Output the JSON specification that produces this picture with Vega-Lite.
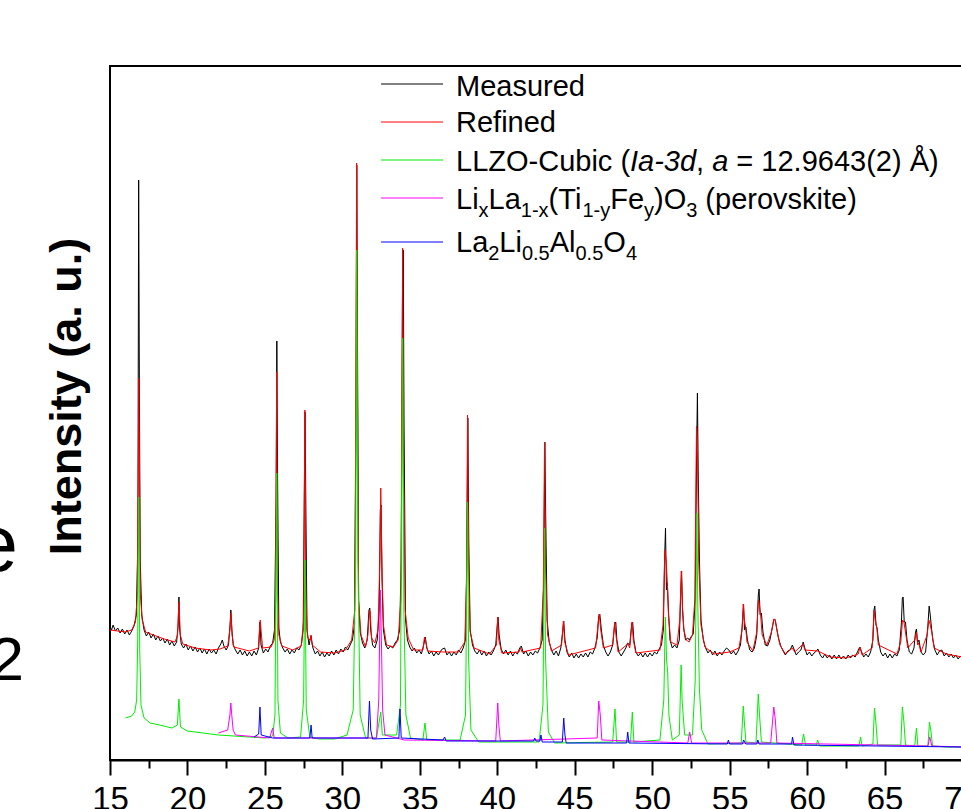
{
  "$schema": "https://vega.github.io/schema/vega-lite/v6.json",
  "width": 852,
  "height": 694,
  "autosize": "none",
  "padding": {"left": 110, "top": 66, "right": 0, "bottom": 49},
  "background": "white",
  "config": {
    "view": {"stroke": "black", "strokeWidth": 2},
    "font": "Liberation Sans"
  },
  "datasets": {
    "measured": [
      {"x":15.0,"y":133},{"x":15.1,"y":130},{"x":15.2,"y":135},{"x":15.35,"y":129},{"x":15.5,"y":132},{"x":15.65,"y":127},{"x":15.8,"y":131},{"x":15.95,"y":126},{"x":16.1,"y":130},{"x":16.25,"y":125},{"x":16.4,"y":129},{"x":16.55,"y":134},{"x":16.7,"y":145},{"x":16.8,"y":220},{"x":16.85,"y":580},{"x":16.9,"y":360},{"x":16.95,"y":200},{"x":17.05,"y":145},{"x":17.2,"y":130},{"x":17.35,"y":124},{"x":17.5,"y":128},{"x":17.65,"y":122},{"x":17.8,"y":126},{"x":17.95,"y":120},{"x":18.1,"y":124},{"x":18.25,"y":119},{"x":18.4,"y":122},{"x":18.55,"y":117},{"x":18.7,"y":121},{"x":18.85,"y":115},{"x":19.0,"y":119},{"x":19.15,"y":114},{"x":19.3,"y":118},{"x":19.4,"y":135},{"x":19.45,"y":163},{"x":19.5,"y":130},{"x":19.6,"y":116},{"x":19.75,"y":112},{"x":19.9,"y":116},{"x":20.05,"y":110},{"x":20.2,"y":114},{"x":20.35,"y":109},{"x":20.5,"y":113},{"x":20.65,"y":108},{"x":20.8,"y":112},{"x":20.95,"y":107},{"x":21.1,"y":111},{"x":21.25,"y":106},{"x":21.4,"y":111},{"x":21.55,"y":107},{"x":21.7,"y":110},{"x":21.85,"y":106},{"x":22.0,"y":112},{"x":22.15,"y":116},{"x":22.25,"y":120},{"x":22.35,"y":114},{"x":22.5,"y":110},{"x":22.65,"y":115},{"x":22.75,"y":135},{"x":22.8,"y":150},{"x":22.87,"y":130},{"x":22.95,"y":115},{"x":23.1,"y":110},{"x":23.25,"y":106},{"x":23.4,"y":110},{"x":23.55,"y":105},{"x":23.7,"y":109},{"x":23.85,"y":104},{"x":24.0,"y":108},{"x":24.15,"y":104},{"x":24.3,"y":109},{"x":24.45,"y":105},{"x":24.6,"y":112},{"x":24.68,"y":138},{"x":24.75,"y":115},{"x":24.9,"y":107},{"x":25.05,"y":111},{"x":25.2,"y":108},{"x":25.35,"y":114},{"x":25.5,"y":117},{"x":25.62,"y":130},{"x":25.72,"y":260},{"x":25.77,"y":419},{"x":25.82,"y":280},{"x":25.9,"y":132},{"x":26.0,"y":118},{"x":26.15,"y":112},{"x":26.3,"y":108},{"x":26.45,"y":111},{"x":26.6,"y":106},{"x":26.75,"y":110},{"x":26.9,"y":107},{"x":27.05,"y":112},{"x":27.2,"y":110},{"x":27.35,"y":115},{"x":27.47,"y":130},{"x":27.55,"y":280},{"x":27.59,"y":348},{"x":27.64,"y":260},{"x":27.72,"y":130},{"x":27.85,"y":115},{"x":27.97,"y":124},{"x":28.1,"y":112},{"x":28.25,"y":106},{"x":28.4,"y":109},{"x":28.55,"y":104},{"x":28.7,"y":108},{"x":28.85,"y":103},{"x":29.0,"y":107},{"x":29.15,"y":104},{"x":29.3,"y":109},{"x":29.45,"y":105},{"x":29.6,"y":110},{"x":29.75,"y":106},{"x":29.9,"y":111},{"x":30.05,"y":108},{"x":30.2,"y":113},{"x":30.35,"y":110},{"x":30.5,"y":115},{"x":30.65,"y":120},{"x":30.78,"y":135},{"x":30.87,"y":310},{"x":30.93,"y":595},{"x":30.98,"y":410},{"x":31.05,"y":160},{"x":31.15,"y":128},{"x":31.3,"y":117},{"x":31.45,"y":112},{"x":31.6,"y":120},{"x":31.72,"y":150},{"x":31.77,"y":152},{"x":31.83,"y":130},{"x":31.95,"y":115},{"x":32.1,"y":112},{"x":32.25,"y":120},{"x":32.38,"y":150},{"x":32.45,"y":250},{"x":32.5,"y":255},{"x":32.56,"y":180},{"x":32.65,"y":130},{"x":32.8,"y":115},{"x":32.95,"y":111},{"x":33.1,"y":114},{"x":33.25,"y":112},{"x":33.4,"y":117},{"x":33.55,"y":120},{"x":33.7,"y":130},{"x":33.8,"y":200},{"x":33.88,"y":460},{"x":33.93,"y":510},{"x":33.98,"y":340},{"x":34.08,"y":140},{"x":34.2,"y":120},{"x":34.35,"y":113},{"x":34.5,"y":109},{"x":34.65,"y":112},{"x":34.8,"y":107},{"x":34.95,"y":110},{"x":35.1,"y":106},{"x":35.25,"y":115},{"x":35.35,"y":123},{"x":35.45,"y":112},{"x":35.6,"y":106},{"x":35.75,"y":109},{"x":35.9,"y":104},{"x":36.05,"y":108},{"x":36.2,"y":105},{"x":36.35,"y":109},{"x":36.45,"y":111},{"x":36.6,"y":112},{"x":36.75,"y":105},{"x":36.9,"y":108},{"x":37.05,"y":104},{"x":37.2,"y":108},{"x":37.35,"y":105},{"x":37.5,"y":110},{"x":37.65,"y":107},{"x":37.8,"y":112},{"x":37.95,"y":120},{"x":38.03,"y":200},{"x":38.1,"y":342},{"x":38.16,"y":220},{"x":38.25,"y":130},{"x":38.4,"y":115},{"x":38.55,"y":109},{"x":38.7,"y":106},{"x":38.85,"y":110},{"x":39.0,"y":105},{"x":39.15,"y":109},{"x":39.3,"y":104},{"x":39.45,"y":108},{"x":39.6,"y":105},{"x":39.75,"y":109},{"x":39.9,"y":115},{"x":40.0,"y":135},{"x":40.05,"y":143},{"x":40.12,"y":125},{"x":40.25,"y":111},{"x":40.4,"y":106},{"x":40.55,"y":110},{"x":40.7,"y":105},{"x":40.85,"y":109},{"x":41.0,"y":104},{"x":41.15,"y":108},{"x":41.3,"y":106},{"x":41.45,"y":112},{"x":41.55,"y":114},{"x":41.7,"y":106},{"x":41.85,"y":109},{"x":42.0,"y":104},{"x":42.15,"y":108},{"x":42.3,"y":105},{"x":42.45,"y":109},{"x":42.6,"y":107},{"x":42.75,"y":112},{"x":42.9,"y":120},{"x":43.0,"y":180},{"x":43.07,"y":318},{"x":43.13,"y":240},{"x":43.22,"y":140},{"x":43.35,"y":118},{"x":43.5,"y":110},{"x":43.65,"y":105},{"x":43.8,"y":109},{"x":43.95,"y":104},{"x":44.1,"y":112},{"x":44.2,"y":125},{"x":44.29,"y":139},{"x":44.37,"y":120},{"x":44.5,"y":108},{"x":44.65,"y":103},{"x":44.8,"y":107},{"x":44.95,"y":102},{"x":45.1,"y":106},{"x":45.25,"y":102},{"x":45.4,"y":106},{"x":45.55,"y":103},{"x":45.7,"y":107},{"x":45.85,"y":103},{"x":46.0,"y":108},{"x":46.15,"y":106},{"x":46.3,"y":112},{"x":46.45,"y":122},{"x":46.55,"y":144},{"x":46.62,"y":146},{"x":46.72,"y":130},{"x":46.85,"y":115},{"x":47.0,"y":108},{"x":47.15,"y":104},{"x":47.3,"y":108},{"x":47.45,"y":115},{"x":47.58,"y":136},{"x":47.65,"y":138},{"x":47.72,"y":120},{"x":47.85,"y":108},{"x":48.0,"y":104},{"x":48.15,"y":108},{"x":48.3,"y":112},{"x":48.42,"y":117},{"x":48.55,"y":115},{"x":48.68,"y":136},{"x":48.74,"y":138},{"x":48.82,"y":120},{"x":48.95,"y":108},{"x":49.1,"y":104},{"x":49.25,"y":107},{"x":49.4,"y":103},{"x":49.55,"y":107},{"x":49.7,"y":103},{"x":49.85,"y":107},{"x":50.0,"y":104},{"x":50.15,"y":108},{"x":50.3,"y":106},{"x":50.45,"y":111},{"x":50.6,"y":115},{"x":50.72,"y":130},{"x":50.8,"y":200},{"x":50.86,"y":232},{"x":50.92,"y":170},{"x":50.98,"y":177},{"x":51.05,"y":150},{"x":51.15,"y":120},{"x":51.3,"y":112},{"x":51.45,"y":115},{"x":51.6,"y":112},{"x":51.75,"y":120},{"x":51.85,"y":170},{"x":51.9,"y":189},{"x":51.96,"y":150},{"x":52.03,"y":132},{"x":52.15,"y":120},{"x":52.3,"y":122},{"x":52.4,"y":120},{"x":52.5,"y":123},{"x":52.65,"y":126},{"x":52.78,"y":160},{"x":52.87,"y":310},{"x":52.92,"y":367},{"x":52.97,"y":290},{"x":53.05,"y":200},{"x":53.15,"y":140},{"x":53.3,"y":120},{"x":53.45,"y":112},{"x":53.6,"y":107},{"x":53.75,"y":110},{"x":53.9,"y":105},{"x":54.05,"y":109},{"x":54.2,"y":104},{"x":54.35,"y":108},{"x":54.5,"y":105},{"x":54.65,"y":109},{"x":54.8,"y":112},{"x":54.95,"y":110},{"x":55.1,"y":106},{"x":55.25,"y":109},{"x":55.4,"y":105},{"x":55.55,"y":109},{"x":55.7,"y":115},{"x":55.82,"y":135},{"x":55.9,"y":156},{"x":55.96,"y":130},{"x":56.05,"y":133},{"x":56.15,"y":120},{"x":56.3,"y":110},{"x":56.45,"y":108},{"x":56.6,"y":112},{"x":56.75,"y":125},{"x":56.85,"y":165},{"x":56.9,"y":171},{"x":56.97,"y":145},{"x":57.05,"y":147},{"x":57.15,"y":128},{"x":57.3,"y":115},{"x":57.45,"y":114},{"x":57.6,"y":120},{"x":57.75,"y":132},{"x":57.85,"y":140},{"x":57.92,"y":141},{"x":58.0,"y":135},{"x":58.15,"y":122},{"x":58.3,"y":114},{"x":58.45,"y":109},{"x":58.6,"y":105},{"x":58.75,"y":109},{"x":58.9,"y":110},{"x":59.05,"y":115},{"x":59.15,"y":111},{"x":59.3,"y":105},{"x":59.45,"y":108},{"x":59.6,"y":110},{"x":59.75,"y":118},{"x":59.85,"y":112},{"x":60.0,"y":105},{"x":60.15,"y":108},{"x":60.3,"y":104},{"x":60.45,"y":107},{"x":60.6,"y":109},{"x":60.7,"y":111},{"x":60.85,"y":105},{"x":61.0,"y":102},{"x":61.15,"y":106},{"x":61.3,"y":102},{"x":61.45,"y":105},{"x":61.6,"y":101},{"x":61.75,"y":105},{"x":61.9,"y":101},{"x":62.05,"y":105},{"x":62.2,"y":101},{"x":62.35,"y":104},{"x":62.5,"y":101},{"x":62.65,"y":105},{"x":62.8,"y":102},{"x":62.95,"y":105},{"x":63.1,"y":103},{"x":63.25,"y":108},{"x":63.4,"y":113},{"x":63.52,"y":108},{"x":63.65,"y":103},{"x":63.8,"y":106},{"x":63.95,"y":103},{"x":64.1,"y":108},{"x":64.25,"y":120},{"x":64.32,"y":150},{"x":64.37,"y":154},{"x":64.45,"y":135},{"x":64.52,"y":132},{"x":64.6,"y":120},{"x":64.75,"y":108},{"x":64.9,"y":104},{"x":65.05,"y":107},{"x":65.2,"y":102},{"x":65.35,"y":106},{"x":65.5,"y":102},{"x":65.65,"y":106},{"x":65.8,"y":104},{"x":65.95,"y":110},{"x":66.08,"y":135},{"x":66.15,"y":162},{"x":66.2,"y":163},{"x":66.27,"y":138},{"x":66.35,"y":138},{"x":66.45,"y":120},{"x":66.6,"y":108},{"x":66.75,"y":106},{"x":66.9,"y":112},{"x":67.0,"y":128},{"x":67.06,"y":131},{"x":67.13,"y":117},{"x":67.22,"y":120},{"x":67.35,"y":108},{"x":67.5,"y":105},{"x":67.65,"y":108},{"x":67.8,"y":135},{"x":67.88,"y":154},{"x":67.95,"y":145},{"x":68.03,"y":132},{"x":68.12,"y":120},{"x":68.25,"y":110},{"x":68.4,"y":105},{"x":68.55,"y":109},{"x":68.7,"y":110},{"x":68.85,"y":104},{"x":69.0,"y":107},{"x":69.15,"y":103},{"x":69.3,"y":106},{"x":69.45,"y":102},{"x":69.6,"y":105},{"x":69.75,"y":101},{"x":69.9,"y":104},{"x":70.0,"y":102}
    ],
    "refined": [
      {"x":15.0,"y":130},{"x":15.5,"y":129},{"x":16.0,"y":128},{"x":16.4,"y":130},{"x":16.65,"y":138},{"x":16.76,"y":165},{"x":16.83,"y":300},{"x":16.86,"y":382},{"x":16.9,"y":300},{"x":16.96,"y":165},{"x":17.08,"y":140},{"x":17.3,"y":128},{"x":17.8,"y":125},{"x":18.5,"y":121},{"x":19.2,"y":118},{"x":19.36,"y":125},{"x":19.45,"y":158},{"x":19.54,"y":125},{"x":19.7,"y":116},{"x":20.5,"y":112},{"x":21.5,"y":110},{"x":22.1,"y":111},{"x":22.6,"y":114},{"x":22.74,"y":130},{"x":22.81,"y":147},{"x":22.88,"y":125},{"x":23.0,"y":113},{"x":24.0,"y":109},{"x":24.58,"y":112},{"x":24.65,"y":130},{"x":24.7,"y":140},{"x":24.75,"y":130},{"x":24.85,"y":112},{"x":25.4,"y":113},{"x":25.6,"y":120},{"x":25.7,"y":160},{"x":25.76,"y":388},{"x":25.81,"y":170},{"x":25.9,"y":125},{"x":26.1,"y":114},{"x":26.8,"y":110},{"x":27.35,"y":114},{"x":27.5,"y":140},{"x":27.58,"y":350},{"x":27.64,"y":160},{"x":27.75,"y":122},{"x":27.92,"y":120},{"x":27.98,"y":125},{"x":28.05,"y":115},{"x":28.6,"y":108},{"x":29.5,"y":107},{"x":30.2,"y":110},{"x":30.6,"y":120},{"x":30.8,"y":150},{"x":30.88,"y":400},{"x":30.92,"y":597},{"x":30.97,"y":400},{"x":31.05,"y":160},{"x":31.2,"y":125},{"x":31.5,"y":113},{"x":31.65,"y":125},{"x":31.75,"y":150},{"x":31.8,"y":148},{"x":31.88,"y":122},{"x":32.1,"y":117},{"x":32.3,"y":130},{"x":32.42,"y":200},{"x":32.48,"y":272},{"x":32.55,"y":200},{"x":32.65,"y":135},{"x":32.85,"y":115},{"x":33.3,"y":113},{"x":33.6,"y":120},{"x":33.78,"y":160},{"x":33.84,"y":350},{"x":33.89,"y":512},{"x":33.95,"y":300},{"x":34.05,"y":150},{"x":34.25,"y":122},{"x":34.6,"y":110},{"x":35.2,"y":110},{"x":35.3,"y":123},{"x":35.37,"y":120},{"x":35.5,"y":109},{"x":36.5,"y":108},{"x":37.5,"y":108},{"x":37.9,"y":118},{"x":38.02,"y":180},{"x":38.08,"y":345},{"x":38.14,"y":200},{"x":38.25,"y":128},{"x":38.5,"y":112},{"x":39.5,"y":106},{"x":39.95,"y":115},{"x":40.03,"y":143},{"x":40.1,"y":120},{"x":40.3,"y":107},{"x":41.4,"y":108},{"x":41.5,"y":112},{"x":41.6,"y":108},{"x":42.8,"y":112},{"x":42.97,"y":170},{"x":43.05,"y":318},{"x":43.12,"y":190},{"x":43.25,"y":125},{"x":43.5,"y":109},{"x":44.15,"y":115},{"x":44.27,"y":139},{"x":44.35,"y":118},{"x":44.6,"y":105},{"x":46.35,"y":112},{"x":46.5,"y":135},{"x":46.58,"y":146},{"x":46.68,"y":130},{"x":46.85,"y":112},{"x":47.45,"y":115},{"x":47.58,"y":138},{"x":47.66,"y":125},{"x":47.8,"y":108},{"x":48.35,"y":115},{"x":48.42,"y":117},{"x":48.55,"y":112},{"x":48.7,"y":138},{"x":48.78,"y":120},{"x":48.95,"y":107},{"x":50.5,"y":110},{"x":50.7,"y":135},{"x":50.82,"y":210},{"x":50.9,"y":200},{"x":50.98,"y":177},{"x":51.05,"y":145},{"x":51.2,"y":118},{"x":51.6,"y":115},{"x":51.78,"y":140},{"x":51.88,"y":189},{"x":51.95,"y":155},{"x":52.05,"y":130},{"x":52.2,"y":120},{"x":52.38,"y":118},{"x":52.6,"y":125},{"x":52.75,"y":160},{"x":52.86,"y":334},{"x":52.93,"y":300},{"x":53.0,"y":200},{"x":53.15,"y":135},{"x":53.4,"y":113},{"x":54.0,"y":106},{"x":55.0,"y":108},{"x":55.6,"y":112},{"x":55.8,"y":130},{"x":55.88,"y":156},{"x":55.95,"y":140},{"x":56.03,"y":133},{"x":56.12,"y":118},{"x":56.5,"y":109},{"x":56.75,"y":128},{"x":56.86,"y":160},{"x":56.92,"y":155},{"x":57.0,"y":145},{"x":57.1,"y":125},{"x":57.4,"y":115},{"x":57.7,"y":128},{"x":57.85,"y":141},{"x":57.95,"y":140},{"x":58.05,"y":130},{"x":58.25,"y":115},{"x":58.6,"y":106},{"x":59.05,"y":112},{"x":59.2,"y":108},{"x":59.75,"y":116},{"x":59.85,"y":110},{"x":60.7,"y":109},{"x":61.5,"y":103},{"x":62.5,"y":102},{"x":63.3,"y":106},{"x":63.42,"y":113},{"x":63.55,"y":105},{"x":64.2,"y":112},{"x":64.33,"y":150},{"x":64.4,"y":140},{"x":64.5,"y":132},{"x":64.6,"y":115},{"x":65.8,"y":106},{"x":66.05,"y":118},{"x":66.16,"y":140},{"x":66.25,"y":138},{"x":66.35,"y":128},{"x":66.5,"y":112},{"x":66.95,"y":120},{"x":67.06,"y":128},{"x":67.14,"y":115},{"x":67.2,"y":117},{"x":67.35,"y":108},{"x":67.75,"y":125},{"x":67.86,"y":140},{"x":67.95,"y":135},{"x":68.05,"y":128},{"x":68.2,"y":112},{"x":69.0,"y":106},{"x":70.0,"y":103}
    ],
    "cubic": [
      {"x":16.0,"y":42},{"x":16.4,"y":44},{"x":16.6,"y":48},{"x":16.72,"y":60},{"x":16.79,"y":120},{"x":16.85,"y":263},{"x":16.92,"y":110},{"x":17.0,"y":55},{"x":17.2,"y":42},{"x":17.6,"y":37},{"x":18.2,"y":35},{"x":19.0,"y":32},{"x":19.35,"y":35},{"x":19.45,"y":61},{"x":19.55,"y":33},{"x":20.0,"y":29},{"x":21.0,"y":27},{"x":22.0,"y":25},{"x":23.0,"y":24},{"x":24.0,"y":23},{"x":25.0,"y":22},{"x":25.5,"y":24},{"x":25.65,"y":45},{"x":25.76,"y":287},{"x":25.84,"y":60},{"x":26.0,"y":27},{"x":26.5,"y":22},{"x":27.3,"y":23},{"x":27.5,"y":60},{"x":27.58,"y":200},{"x":27.67,"y":50},{"x":27.9,"y":23},{"x":28.5,"y":21},{"x":29.5,"y":21},{"x":30.3,"y":25},{"x":30.7,"y":50},{"x":30.86,"y":200},{"x":30.92,"y":510},{"x":31.0,"y":200},{"x":31.15,"y":45},{"x":31.5,"y":22},{"x":32.2,"y":22},{"x":32.48,"y":48},{"x":32.58,"y":25},{"x":33.5,"y":25},{"x":33.75,"y":55},{"x":33.89,"y":422},{"x":33.97,"y":150},{"x":34.1,"y":45},{"x":34.4,"y":22},{"x":35.2,"y":20},{"x":35.33,"y":37},{"x":35.45,"y":20},{"x":37.6,"y":20},{"x":37.95,"y":45},{"x":38.08,"y":258},{"x":38.15,"y":100},{"x":38.3,"y":30},{"x":38.8,"y":18},{"x":42.7,"y":18},{"x":42.95,"y":55},{"x":43.05,"y":232},{"x":43.12,"y":100},{"x":43.3,"y":28},{"x":43.7,"y":17},{"x":47.45,"y":18},{"x":47.6,"y":51},{"x":47.7,"y":18},{"x":48.6,"y":18},{"x":48.72,"y":48},{"x":48.82,"y":18},{"x":50.5,"y":20},{"x":50.75,"y":60},{"x":50.85,"y":143},{"x":50.93,"y":100},{"x":51.0,"y":88},{"x":51.08,"y":45},{"x":51.3,"y":20},{"x":51.75,"y":25},{"x":51.87,"y":95},{"x":51.93,"y":60},{"x":52.0,"y":45},{"x":52.1,"y":25},{"x":52.6,"y":25},{"x":52.78,"y":80},{"x":52.88,"y":247},{"x":52.95,"y":150},{"x":53.05,"y":70},{"x":53.2,"y":30},{"x":53.6,"y":16},{"x":55.75,"y":17},{"x":55.88,"y":54},{"x":55.95,"y":38},{"x":56.05,"y":18},{"x":56.7,"y":17},{"x":56.85,"y":66},{"x":56.93,"y":45},{"x":57.05,"y":18},{"x":59.65,"y":15},{"x":59.77,"y":26},{"x":59.9,"y":15},{"x":60.6,"y":15},{"x":60.68,"y":20},{"x":60.8,"y":14},{"x":63.35,"y":14},{"x":63.45,"y":23},{"x":63.55,"y":14},{"x":64.25,"y":16},{"x":64.35,"y":52},{"x":64.45,"y":36},{"x":64.55,"y":15},{"x":66.05,"y":15},{"x":66.15,"y":53},{"x":66.25,"y":38},{"x":66.35,"y":15},{"x":66.95,"y":14},{"x":67.06,"y":32},{"x":67.15,"y":14},{"x":67.8,"y":14},{"x":67.9,"y":38},{"x":68.0,"y":28},{"x":68.1,"y":14},{"x":69.0,"y":13},{"x":70.0,"y":13}
    ],
    "perovskite": [
      {"x":22.0,"y":27},{"x":22.6,"y":30},{"x":22.74,"y":45},{"x":22.8,"y":57},{"x":22.86,"y":45},{"x":22.95,"y":30},{"x":23.1,"y":25},{"x":25.3,"y":22},{"x":25.5,"y":32},{"x":25.6,"y":22},{"x":32.2,"y":22},{"x":32.35,"y":60},{"x":32.45,"y":170},{"x":32.52,"y":120},{"x":32.6,"y":50},{"x":32.75,"y":25},{"x":34.0,"y":20},{"x":39.9,"y":19},{"x":40.03,"y":57},{"x":40.1,"y":35},{"x":40.2,"y":19},{"x":46.45,"y":22},{"x":46.55,"y":59},{"x":46.65,"y":45},{"x":46.75,"y":20},{"x":52.3,"y":17},{"x":52.42,"y":28},{"x":52.55,"y":17},{"x":57.65,"y":17},{"x":57.85,"y":53},{"x":57.95,"y":40},{"x":58.05,"y":17},{"x":67.8,"y":14},{"x":67.92,"y":23},{"x":68.05,"y":14},{"x":70.0,"y":13}
    ],
    "aluminate": [
      {"x":24.3,"y":23},{"x":24.6,"y":26},{"x":24.68,"y":53},{"x":24.76,"y":25},{"x":25.5,"y":22},{"x":27.9,"y":22},{"x":27.98,"y":35},{"x":28.05,"y":22},{"x":31.65,"y":22},{"x":31.75,"y":59},{"x":31.83,"y":30},{"x":31.95,"y":21},{"x":33.65,"y":22},{"x":33.72,"y":51},{"x":33.8,"y":22},{"x":36.5,"y":20},{"x":36.6,"y":23},{"x":36.7,"y":19},{"x":42.35,"y":19},{"x":42.42,"y":22},{"x":42.5,"y":19},{"x":42.75,"y":19},{"x":42.82,"y":25},{"x":42.9,"y":18},{"x":44.2,"y":18},{"x":44.29,"y":42},{"x":44.37,"y":25},{"x":44.45,"y":17},{"x":48.35,"y":17},{"x":48.42,"y":28},{"x":48.5,"y":17},{"x":54.85,"y":16},{"x":54.92,"y":20},{"x":55.0,"y":16},{"x":55.83,"y":16},{"x":55.9,"y":20},{"x":56.05,"y":16},{"x":56.75,"y":16},{"x":56.82,"y":20},{"x":56.9,"y":16},{"x":59.0,"y":16},{"x":59.06,"y":23},{"x":59.15,"y":15},{"x":70.0,"y":13}
    ],
    "keyLines": [
      {"x":32.5,"x2":36.5,"y":676,"k":"Measured"},
      {"x":32.5,"x2":36.5,"y":638,"k":"Refined"},
      {"x":32.5,"x2":36.5,"y":600,"k":"Cubic"},
      {"x":32.5,"x2":36.5,"y":562,"k":"Perovskite"},
      {"x":32.5,"x2":36.5,"y":518,"k":"Aluminate"}
    ],
    "keyText": [
      {"x":37.336,"y":664.5,"t":"Measured"},
      {"x":37.336,"y":628,"t":"Refined"},
      {"x":37.336,"y":589,"t":"LLZO-Cubic ("},
      {"x":52.836,"y":589,"t":","},
      {"x":55.434,"y":589,"t":"= 12.9643(2) Å)"},
      {"x":37.336,"y":551,"t":"Li"},
      {"x":39.44,"y":551,"t":"La"},
      {"x":43.313,"y":551,"t":"(Ti"},
      {"x":47.29,"y":551,"t":"Fe"},
      {"x":50.118,"y":551,"t":")O"},
      {"x":53.433,"y":551,"t":"(perovskite)"},
      {"x":37.336,"y":508,"t":"La"},
      {"x":40.131,"y":508,"t":"Li"},
      {"x":43.385,"y":508,"t":"Al"},
      {"x":46.845,"y":508,"t":"O"}
    ],
    "keyItalic": [
      {"x":48.568,"y":589,"t":"Ia-3d"},
      {"x":53.875,"y":589,"t":"a"}
    ],
    "keySub": [
      {"x":38.795,"y":543,"t":"x"},
      {"x":41.519,"y":543,"t":"1-x"},
      {"x":45.495,"y":543,"t":"1-y"},
      {"x":49.472,"y":543,"t":"y"},
      {"x":52.196,"y":543,"t":"3"},
      {"x":39.414,"y":500,"t":"2"},
      {"x":41.59,"y":500,"t":"0.5"},
      {"x":45.05,"y":500,"t":"0.5"},
      {"x":48.304,"y":500,"t":"4"}
    ],
    "edgeLetterE": [{"x":9.06,"y":189,"t":"e"}],
    "edgeDigit": [{"x":9.45,"y":80,"t":"2"}]
  },
  "encoding": {
    "x": {
      "field": "x",
      "type": "quantitative",
      "scale": {"domain": [15, 70], "nice": false, "zero": false},
      "axis": {
        "title": null,
        "grid": false,
        "values": [15, 17.5, 20, 22.5, 25, 27.5, 30, 32.5, 35, 37.5, 40, 42.5, 45, 47.5, 50, 52.5, 55, 57.5, 60, 62.5, 65, 67.5, 70],
        "labelExpr": "datum.value % 5 === 0 ? datum.label : ''",
        "tickSize": {"condition": {"test": "datum.value % 5 === 0", "value": 15}, "value": 8},
        "tickWidth": 2,
        "tickColor": "black",
        "domainColor": "black",
        "domainWidth": 2,
        "labelFont": "Liberation Sans",
        "labelFontSize": 33,
        "labelColor": "black",
        "labelPadding": 8,
        "labelFlush": false,
        "labelOverlap": false
      }
    },
    "y": {
      "field": "y",
      "type": "quantitative",
      "scale": {"domain": [0, 694], "nice": false, "zero": false},
      "axis": {
        "title": "Intensity (a. u.)",
        "grid": false,
        "ticks": false,
        "labels": false,
        "domain": false,
        "titleFont": "Liberation Sans",
        "titleFontSize": 45,
        "titleFontWeight": "bold",
        "titleColor": "black",
        "titlePadding": 21,
        "titleY": 330
      }
    }
  },
  "layer": [
    {"data": {"name": "measured"}, "mark": {"type": "line", "color": "black", "strokeWidth": 1, "clip": true}},
    {"data": {"name": "refined"}, "mark": {"type": "line", "color": "#ff0000", "strokeWidth": 1, "clip": true}},
    {"data": {"name": "cubic"}, "mark": {"type": "line", "color": "#00ee00", "strokeWidth": 1, "clip": true}},
    {"data": {"name": "perovskite"}, "mark": {"type": "line", "color": "#ff00ff", "strokeWidth": 1, "clip": true}},
    {"data": {"name": "aluminate"}, "mark": {"type": "line", "color": "#0000ff", "strokeWidth": 1, "clip": true}},
    {"data": {"name": "keyLines"}, "transform": [{"filter": "datum.k === 'Measured'"}], "mark": {"type": "rule", "strokeWidth": 1, "color": "black"}, "encoding": {"x2": {"field": "x2"}}},
    {"data": {"name": "keyLines"}, "transform": [{"filter": "datum.k === 'Refined'"}], "mark": {"type": "rule", "strokeWidth": 1, "color": "#ff0000"}, "encoding": {"x2": {"field": "x2"}}},
    {"data": {"name": "keyLines"}, "transform": [{"filter": "datum.k === 'Cubic'"}], "mark": {"type": "rule", "strokeWidth": 1, "color": "#00ee00"}, "encoding": {"x2": {"field": "x2"}}},
    {"data": {"name": "keyLines"}, "transform": [{"filter": "datum.k === 'Perovskite'"}], "mark": {"type": "rule", "strokeWidth": 1, "color": "#ff00ff"}, "encoding": {"x2": {"field": "x2"}}},
    {"data": {"name": "keyLines"}, "transform": [{"filter": "datum.k === 'Aluminate'"}], "mark": {"type": "rule", "strokeWidth": 1, "color": "#0000ff"}, "encoding": {"x2": {"field": "x2"}}},
    {
      "data": {"name": "keyText"},
      "mark": {"type": "text", "align": "left", "baseline": "alphabetic", "fontSize": 29, "font": "Liberation Sans", "color": "black"},
      "encoding": {"text": {"field": "t"}}
    },
    {
      "data": {"name": "keyItalic"},
      "mark": {"type": "text", "align": "left", "baseline": "alphabetic", "fontSize": 29, "fontStyle": "italic", "font": "Liberation Sans", "color": "black"},
      "encoding": {"text": {"field": "t"}}
    },
    {
      "data": {"name": "keySub"},
      "mark": {"type": "text", "align": "left", "baseline": "alphabetic", "fontSize": 20, "font": "Liberation Sans", "color": "black"},
      "encoding": {"text": {"field": "t"}}
    },
    {
      "data": {"name": "edgeLetterE"},
      "mark": {"type": "text", "align": "right", "baseline": "alphabetic", "fontSize": 80, "font": "Liberation Sans", "color": "black"},
      "encoding": {"text": {"field": "t"}}
    },
    {
      "data": {"name": "edgeDigit"},
      "mark": {"type": "text", "align": "right", "baseline": "alphabetic", "fontSize": 62, "font": "Liberation Sans", "color": "black"},
      "encoding": {"text": {"field": "t"}}
    }
  ]
}
